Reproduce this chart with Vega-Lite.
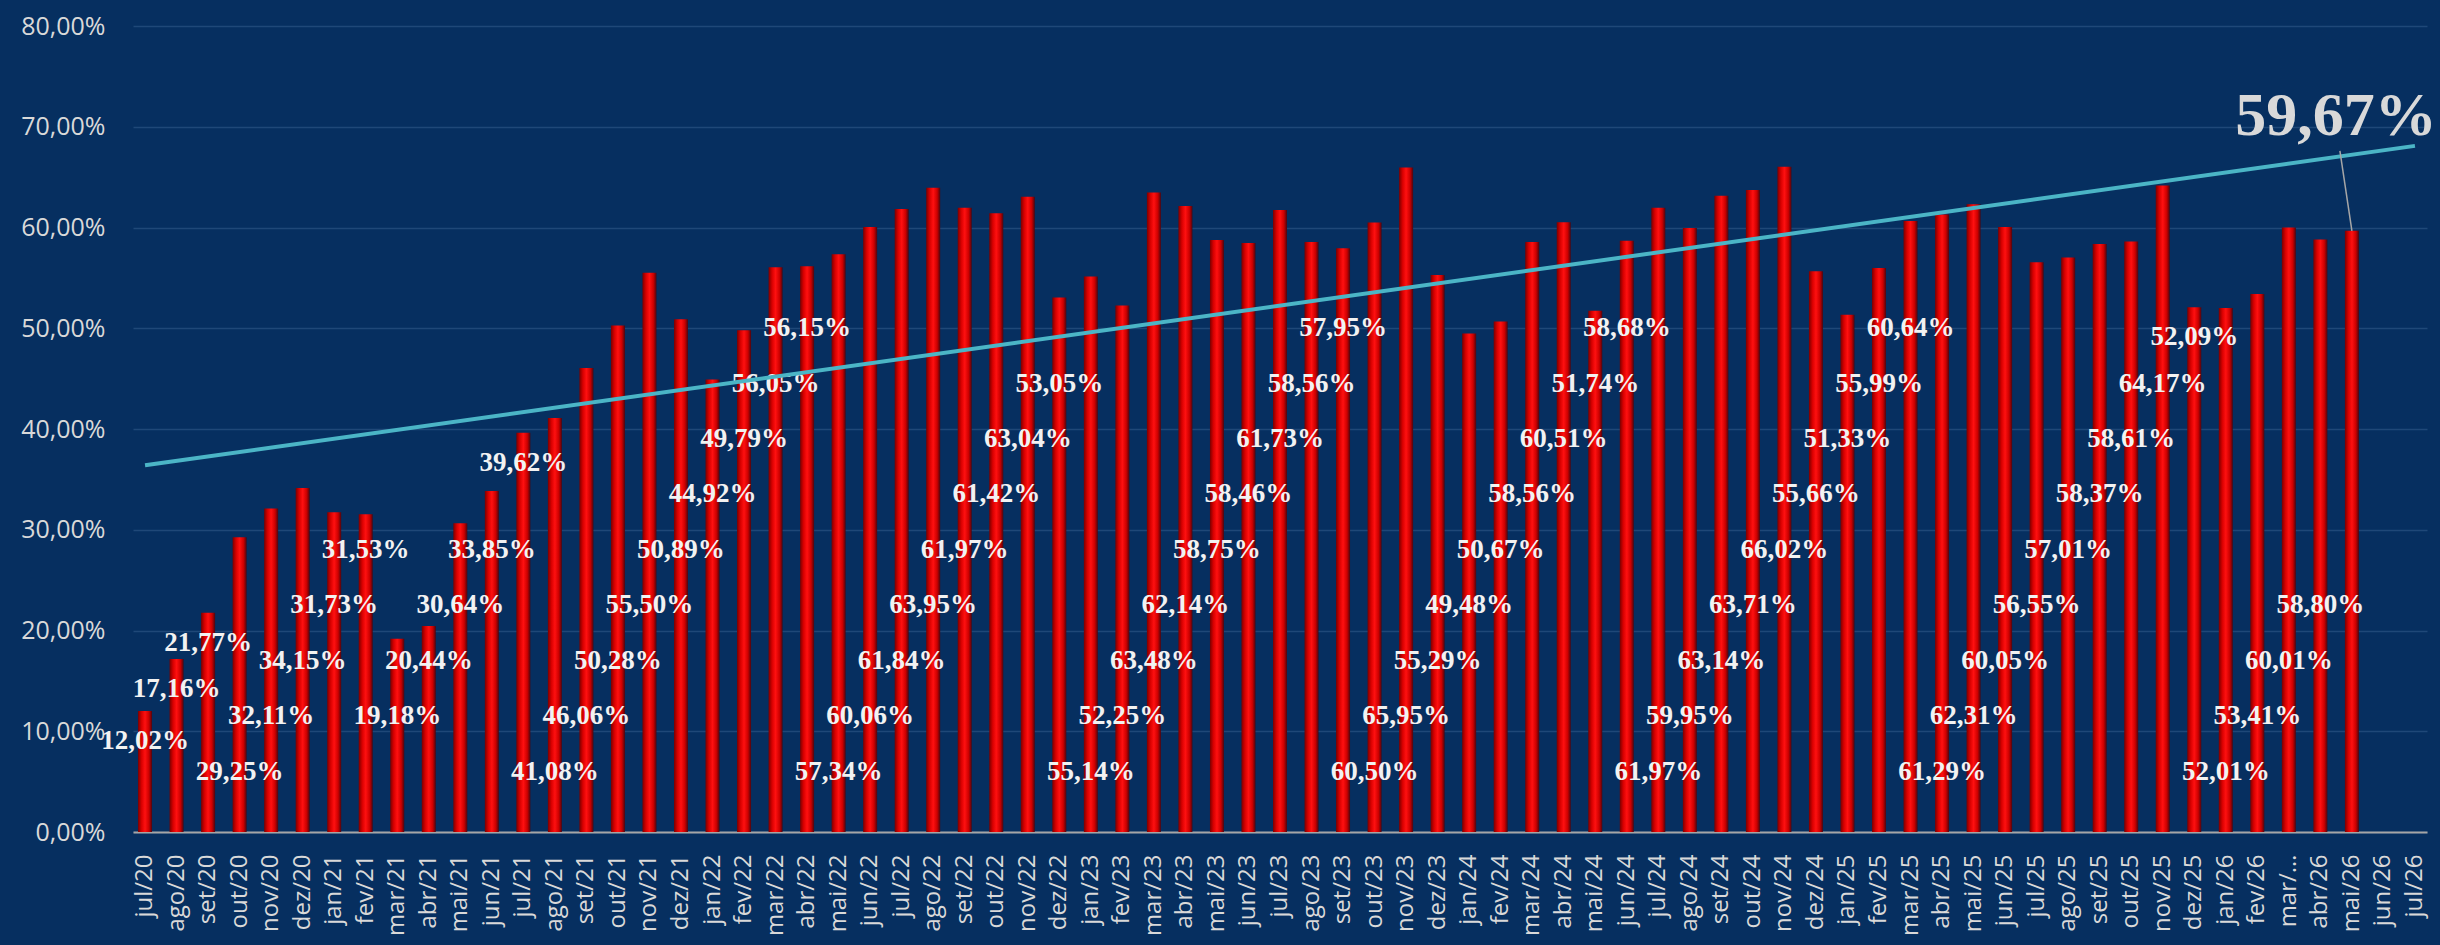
{
  "$schema": "https://vega.github.io/schema/vega-lite/v6.json",
  "width": 2294,
  "height": 806,
  "autosize": {"type": "none"},
  "padding": {"left": 133, "top": 26, "right": 13, "bottom": 113},
  "background": "#062f60",
  "config": {
    "view": {"stroke": null},
    "locale": {"number": {"decimal": ",", "thousands": ".", "grouping": [3], "currency": ["R$", ""]}}
  },
  "datasets": {
    "meses": [
      {"mes": "jul/20", "valor": 0.1202},
      {"mes": "ago/20", "valor": 0.1716},
      {"mes": "set/20", "valor": 0.2177},
      {"mes": "out/20", "valor": 0.2925},
      {"mes": "nov/20", "valor": 0.3211},
      {"mes": "dez/20", "valor": 0.3415},
      {"mes": "jan/21", "valor": 0.3173},
      {"mes": "fev/21", "valor": 0.3153},
      {"mes": "mar/21", "valor": 0.1918},
      {"mes": "abr/21", "valor": 0.2044},
      {"mes": "mai/21", "valor": 0.3064},
      {"mes": "jun/21", "valor": 0.3385},
      {"mes": "jul/21", "valor": 0.3962},
      {"mes": "ago/21", "valor": 0.4108},
      {"mes": "set/21", "valor": 0.4606},
      {"mes": "out/21", "valor": 0.5028},
      {"mes": "nov/21", "valor": 0.5550},
      {"mes": "dez/21", "valor": 0.5089},
      {"mes": "jan/22", "valor": 0.4492},
      {"mes": "fev/22", "valor": 0.4979},
      {"mes": "mar/22", "valor": 0.5605},
      {"mes": "abr/22", "valor": 0.5615},
      {"mes": "mai/22", "valor": 0.5734},
      {"mes": "jun/22", "valor": 0.6006},
      {"mes": "jul/22", "valor": 0.6184},
      {"mes": "ago/22", "valor": 0.6395},
      {"mes": "set/22", "valor": 0.6197},
      {"mes": "out/22", "valor": 0.6142},
      {"mes": "nov/22", "valor": 0.6304},
      {"mes": "dez/22", "valor": 0.5305},
      {"mes": "jan/23", "valor": 0.5514},
      {"mes": "fev/23", "valor": 0.5225},
      {"mes": "mar/23", "valor": 0.6348},
      {"mes": "abr/23", "valor": 0.6214},
      {"mes": "mai/23", "valor": 0.5875},
      {"mes": "jun/23", "valor": 0.5846},
      {"mes": "jul/23", "valor": 0.6173},
      {"mes": "ago/23", "valor": 0.5856},
      {"mes": "set/23", "valor": 0.5795},
      {"mes": "out/23", "valor": 0.6050},
      {"mes": "nov/23", "valor": 0.6595},
      {"mes": "dez/23", "valor": 0.5529},
      {"mes": "jan/24", "valor": 0.4948},
      {"mes": "fev/24", "valor": 0.5067},
      {"mes": "mar/24", "valor": 0.5856},
      {"mes": "abr/24", "valor": 0.6051},
      {"mes": "mai/24", "valor": 0.5174},
      {"mes": "jun/24", "valor": 0.5868},
      {"mes": "jul/24", "valor": 0.6197},
      {"mes": "ago/24", "valor": 0.5995},
      {"mes": "set/24", "valor": 0.6314},
      {"mes": "out/24", "valor": 0.6371},
      {"mes": "nov/24", "valor": 0.6602},
      {"mes": "dez/24", "valor": 0.5566},
      {"mes": "jan/25", "valor": 0.5133},
      {"mes": "fev/25", "valor": 0.5599},
      {"mes": "mar/25", "valor": 0.6064},
      {"mes": "abr/25", "valor": 0.6129},
      {"mes": "mai/25", "valor": 0.6231},
      {"mes": "jun/25", "valor": 0.6005},
      {"mes": "jul/25", "valor": 0.5655},
      {"mes": "ago/25", "valor": 0.5701},
      {"mes": "set/25", "valor": 0.5837},
      {"mes": "out/25", "valor": 0.5861},
      {"mes": "nov/25", "valor": 0.6417},
      {"mes": "dez/25", "valor": 0.5209},
      {"mes": "jan/26", "valor": 0.5201},
      {"mes": "fev/26", "valor": 0.5341},
      {"mes": "mar/26", "valor": 0.6001},
      {"mes": "abr/26", "valor": 0.5880},
      {"mes": "mai/26", "valor": 0.5967}
    ],
    "tendencia": [
      {"mes": "jul/20", "tendencia": 0.364},
      {"mes": "jul/26", "tendencia": 0.681}
    ]
  },
  "encoding": {
    "x": {
      "field": "mes",
      "type": "ordinal",
      "title": null,
      "scale": {
        "domain": ["jul/20","ago/20","set/20","out/20","nov/20","dez/20","jan/21","fev/21","mar/21","abr/21","mai/21","jun/21","jul/21","ago/21","set/21","out/21","nov/21","dez/21","jan/22","fev/22","mar/22","abr/22","mai/22","jun/22","jul/22","ago/22","set/22","out/22","nov/22","dez/22","jan/23","fev/23","mar/23","abr/23","mai/23","jun/23","jul/23","ago/23","set/23","out/23","nov/23","dez/23","jan/24","fev/24","mar/24","abr/24","mai/24","jun/24","jul/24","ago/24","set/24","out/24","nov/24","dez/24","jan/25","fev/25","mar/25","abr/25","mai/25","jun/25","jul/25","ago/25","set/25","out/25","nov/25","dez/25","jan/26","fev/26","mar/26","abr/26","mai/26","jun/26","jul/26"],
        "paddingInner": 0.556,
        "paddingOuter": 0.16
      },
      "axis": {
        "labelAngle": 270,
        "labelFont": "Open Sans",
        "labelFontSize": 24,
        "labelColor": "#d9d9d9",
        "labelPadding": 22,
        "labelOverlap": false,
        "labelExpr": "datum.value == 'mar/26' ? 'mar/…' : datum.value",
        "ticks": false,
        "domain": true,
        "domainColor": "#a6a6a6",
        "domainWidth": 2,
        "grid": false
      }
    }
  },
  "layer": [
    {
      "data": {"name": "meses"},
      "mark": {
        "type": "bar",
        "color": {
          "gradient": "linear",
          "x1": 0, "y1": 0, "x2": 1, "y2": 0,
          "stops": [
            {"offset": 0, "color": "#7a0000"},
            {"offset": 0.25, "color": "#d80000"},
            {"offset": 0.5, "color": "#ff1010"},
            {"offset": 0.78, "color": "#cc0000"},
            {"offset": 1, "color": "#4a0610"}
          ]
        }
      },
      "encoding": {
        "y": {
          "field": "valor",
          "type": "quantitative",
          "title": null,
          "scale": {"domain": [0, 0.8], "nice": false},
          "axis": {
            "values": [0, 0.1, 0.2, 0.3, 0.4, 0.5, 0.6, 0.7, 0.8],
            "format": ".2%",
            "labelFont": "Open Sans",
            "labelFontSize": 25,
            "labelColor": "#d9d9d9",
            "labelPadding": 28,
            "ticks": false,
            "domain": false,
            "grid": true,
            "gridColor": "#1f4878",
            "gridWidth": 1.5
          }
        }
      }
    },
    {
      "data": {"name": "meses"},
      "transform": [
        {"window": [{"op": "row_number", "as": "ordem"}]},
        {"calculate": "min(0.06 + 0.055 * ((datum.ordem - 1 + (datum.ordem <= 8 ? 6 : datum.ordem <= 12 ? 2 : datum.ordem <= 30 ? 5 : 6)) % 9), datum.valor - 0.03)", "as": "pos_rotulo"},
        {"filter": "datum.mes != 'mai/26'"}
      ],
      "mark": {"type": "text", "font": "Liberation Serif", "fontWeight": "bold", "fontSize": 27, "color": "#f2f2f2", "baseline": "middle", "align": "center"},
      "encoding": {
        "y": {"field": "pos_rotulo", "type": "quantitative"},
        "text": {"field": "valor", "type": "quantitative", "format": ".2%"}
      }
    },
    {
      "data": {"name": "tendencia"},
      "mark": {"type": "line", "color": "#4bb5c6", "strokeWidth": 4},
      "encoding": {
        "y": {"field": "tendencia", "type": "quantitative"}
      }
    },
    {
      "data": {"name": "meses"},
      "transform": [{"filter": "datum.mes == 'mai/26'"}],
      "mark": {"type": "rule", "color": "#a6a6a6", "strokeWidth": 1.5, "x2Offset": -12},
      "encoding": {
        "y": {"field": "valor", "type": "quantitative"},
        "x2": {"field": "mes"},
        "y2": {"datum": 0.676}
      }
    },
    {
      "data": {"name": "meses"},
      "transform": [{"filter": "datum.mes == 'mai/26'"}],
      "mark": {"type": "text", "font": "Liberation Serif", "fontWeight": "bold", "fontSize": 62, "color": "#d9d9d9", "baseline": "alphabetic", "align": "center", "dy": -96, "dx": -16},
      "encoding": {
        "y": {"field": "valor", "type": "quantitative"},
        "text": {"field": "valor", "type": "quantitative", "format": ".2%"}
      }
    }
  ]
}
